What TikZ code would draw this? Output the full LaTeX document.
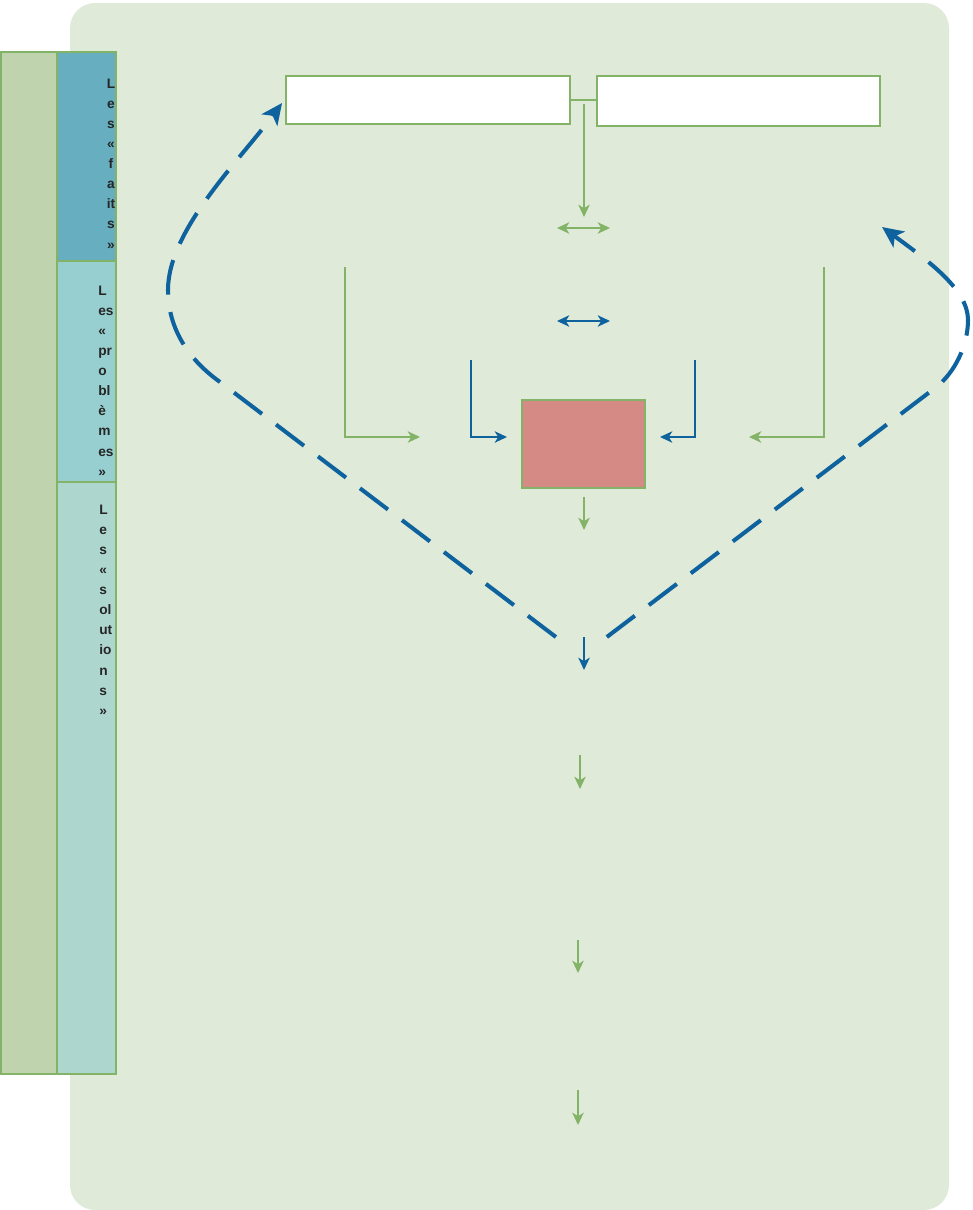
\documentclass[tikz,border=0pt]{standalone}
\usepackage{fontspec}
\setmainfont{Liberation Sans}
\usetikzlibrary{arrows.meta}

\definecolor{bgGreen}{RGB}{224,234,217}
\definecolor{edgeGreen}{RGB}{130,179,102}
\definecolor{flowBlue}{RGB}{14,98,158}
\definecolor{colOne}{RGB}{191,211,174}
\definecolor{colFaits}{RGB}{103,174,193}
\definecolor{colProb}{RGB}{151,206,207}
\definecolor{colSol}{RGB}{173,214,206}
\definecolor{redBox}{RGB}{214,138,133}

\begin{document}
\begin{tikzpicture}[x=0.02cm, y=-0.02cm,
    every node/.style={font=\fontsize{7.8}{11.4}\selectfont\bfseries, text=black!85},
    band/.style={draw=edgeGreen, line width=1.1pt, inner sep=0, minimum width=1.18cm},
    whitebox/.style={draw=edgeGreen, line width=1.1pt, fill=white, inner sep=0},
    stack/.style={anchor=north, inner sep=0},
    greenflow/.style={draw=edgeGreen, line width=1pt, -{Stealth[length=7pt,width=6.5pt,inset=2pt]}},
    blueflow/.style={draw=flowBlue, line width=1pt, -{Stealth[length=7pt,width=6.5pt,inset=2pt]}},
    greenboth/.style={draw=edgeGreen, line width=1pt, {Stealth[length=7pt,width=6.5pt,inset=2pt]}-{Stealth[length=7pt,width=6.5pt,inset=2pt]}},
    blueboth/.style={draw=flowBlue, line width=1pt, {Stealth[length=7pt,width=6.5pt,inset=2pt]}-{Stealth[length=7pt,width=6.5pt,inset=2pt]}},
    loopback/.style={draw=flowBlue, line width=2.3pt, dash pattern=on 20pt off 10pt, -{Stealth[length=12pt,width=11pt,inset=3pt]}}]

    \useasboundingbox (0,0) rectangle (973,1210);

    % --- background panel ----------------------------------------------
    \fill[bgGreen, rounded corners=0.5cm] (70,3) rectangle (949,1210);

    % --- left bands ------------------------------------------------------
    \node[band, fill=colOne, minimum width=1.12cm, minimum height=20.44cm] (axis) at (29,563) {};
    \node[band, fill=colFaits, minimum height=4.18cm] (faits) at (86.5,156.5) {};
    \node[band, fill=colProb, minimum height=4.42cm] (problemes) at (86.5,371.5) {};
    \node[band, fill=colSol, minimum height=11.84cm] (solutions) at (86.5,778) {};

    \node[stack, align=center] (faitsText) at (111,79) {L\\e\\s\\«\\f\\a\\it\\s\\»};
    \node[stack, anchor=north west, align=left] (problemesText) at (98,286) {L\\es\\«\\pr\\o\\bl\\è\\m\\es\\»};
    \node[stack, anchor=north west, align=left] (solutionsText) at (99,505) {L\\e\\s\\«\\s\\ol\\ut\\io\\n\\s\\»};

    % --- top boxes -------------------------------------------------------
    \node[whitebox, minimum width=5.68cm, minimum height=0.96cm] (facts) at (428,100) {};
    \node[whitebox, minimum width=5.66cm, minimum height=1.0cm] (framing) at (738.5,101) {};
    \draw[edgeGreen, line width=1pt] (facts.east) -- (facts.east -| framing.west);

    \coordinate (split) at (584,104);
    \coordinate (splitEnd) at (584,217);
    \draw[greenflow] (split) -- (splitEnd);

    % two-way links
    \coordinate (tradeL) at (557,228);
    \coordinate (tradeR) at (610,228);
    \draw[greenboth] (tradeL) -- (tradeR);
    \coordinate (swapL) at (557,321);
    \coordinate (swapR) at (610,321);
    \draw[blueboth] (swapL) -- (swapR);

    % --- central box and its inputs -------------------------------------
    \node[draw=edgeGreen, line width=1.1pt, fill=redBox, inner sep=0,
          minimum width=2.46cm, minimum height=1.76cm] (core) at (583.5,444) {};

    \coordinate (outerLTop) at (345,267);
    \coordinate (outerLEnd) at (420,437);
    \draw[greenflow] (outerLTop) |- (outerLEnd);
    \coordinate (innerLTop) at (471,360);
    \coordinate (innerLEnd) at (507,437);
    \draw[blueflow] (innerLTop) |- (innerLEnd);
    \coordinate (innerRTop) at (695,360);
    \coordinate (innerREnd) at (660,437);
    \draw[blueflow] (innerRTop) |- (innerREnd);
    \coordinate (outerRTop) at (824,267);
    \coordinate (outerREnd) at (749,437);
    \draw[greenflow] (outerRTop) |- (outerREnd);

    % --- downward chain --------------------------------------------------
    \coordinate (coreIn) at (584,497);
    \coordinate (coreOut) at (584,530);
    \draw[greenflow] (coreIn) -- (coreOut);
    \coordinate (vtip) at (584,637);
    \coordinate (vOut) at (584,670);
    \draw[blueflow] (vtip) -- (vOut);
    \coordinate (stepOneA) at (580,755);
    \coordinate (stepOneB) at (580,789);
    \draw[greenflow] (stepOneA) -- (stepOneB);
    \coordinate (stepTwoA) at (578,940);
    \coordinate (stepTwoB) at (578,973);
    \draw[greenflow] (stepTwoA) -- (stepTwoB);
    \coordinate (stepThreeA) at (578,1090);
    \coordinate (stepThreeB) at (578,1125);
    \draw[greenflow] (stepThreeA) -- (stepThreeB);

    % --- feedback loops --------------------------------------------------
    \coordinate (rightTarget) at (882,227);
    \draw[loopback] ([xshift=-16]vtip) -- (220,382)
        .. controls (185,357) and (168,325) .. (168,290)
        .. controls (168,230) and (240,160) .. ([shift={(-3,3)}]facts.west);
    \draw[loopback] ([xshift=13]vtip) -- (935,388)
        .. controls (955,373) and (968,345) .. (968,320)
        .. controls (968,290) and (930,262) .. (rightTarget);
  \end{tikzpicture}
\end{document}
